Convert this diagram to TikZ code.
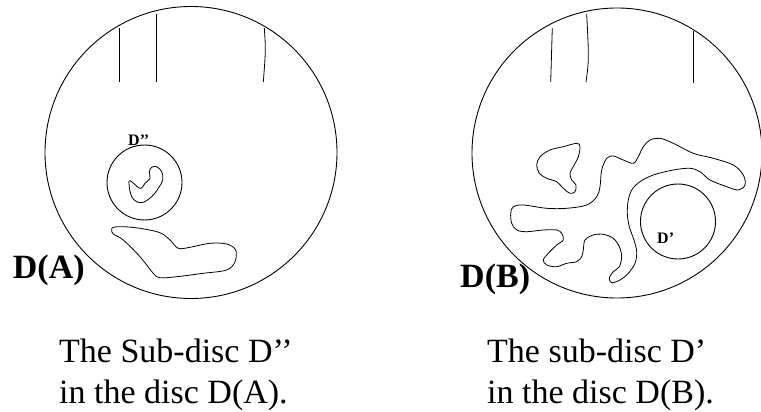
\documentclass[tikz,border=0pt]{standalone}
\usepackage{fontspec}
\setmainfont{Liberation Serif}

\tikzset{
  disc/.style={line width=0.9pt},
  curve/.style={line width=0.8pt},
  cut/.style={line width=0.8pt},
  biglabel/.style={font=\fontsize{34}{40}\selectfont\bfseries, inner sep=0pt, anchor=base west},
  smalllabel/.style={font=\fontsize{16}{19}\selectfont\bfseries, inner sep=0pt, anchor=base west},
  caption/.style={font=\fontsize{34}{41}\selectfont, inner sep=0pt, anchor=base west},
}

\begin{document}
\begin{tikzpicture}[x=1pt, y=-1pt]
    \useasboundingbox (0,0) rectangle (761,412);

    % Disc D(A)
    \draw[disc] (191,152.5) circle[radius=146pt];
    \draw[cut] (119,28) -- (119,82);
    \draw[cut] (156.7,14) -- (156.7,82);
    \draw[cut] (264.3,28) .. controls (265.8,50) .. (263.3,82);

    % Sub-disc D''
    \draw[disc] (144.5,182.5) circle[radius=37.5pt];
    \draw[curve] plot[smooth cycle, tension=0.6] coordinates {
      (140,188.3) (130,180.7) (129.3,186.7) (131.7,196.7) (136.7,201.7)
      (143.3,202.3) (151.7,196.7) (158.3,188.3) (162.7,180) (161.7,171.7)
      (156.7,166.7) (151.7,167.3) (149.3,171.7) (150,178.3) (145,183.3)};
    \draw[curve] plot[smooth cycle, tension=0.55] coordinates {
      (113.3,227.3) (123.3,226.7) (140,228.3) (160,232.7) (170,240)
      (178.3,248.3) (190,247.3) (210,243.3) (226.7,244) (235.7,250)
      (235,261.7) (226.7,270) (203.3,273.3) (176.7,276.7) (160,277.7)
      (153.3,273.3) (140,256.7) (123.3,240) (113.3,234) (111.7,230)};

    \node[smalllabel] (ddA) at (128,145) {D’’};
    \node[biglabel] (labA) at (12.7,278) {D(A)};

    % Disc D(B)
    \draw[disc] (617,153) circle[radius=145pt];
    \draw[cut] (552.3,28) -- (550.7,82);
    \draw[cut] (586.7,14) .. controls (589,60) .. (586,82);
    \draw[cut] (693.3,31) -- (693.3,83);

    % Sub-disc D'
    \draw[disc] (678,221.5) circle[radius=37.5pt];
    \draw[curve] plot[smooth cycle, tension=0.55] coordinates {
      (540,156.7) (550,150) (563.3,146.7) (576.7,143.3) (580,146.7)
      (578.3,156.7) (573.3,166.7) (570,173.3) (571.7,180) (576,185)
      (575,191.7) (570,193.3) (563.3,188.3) (556.7,181.7) (546.7,178.3)
      (539.3,173.3) (536.7,165)};
    \draw[curve] plot[smooth cycle, tension=0.55] coordinates {
      (513.3,206.7) (523.3,205) (546.7,208.3) (566.7,208.3) (586.7,205)
      (596.7,196.7) (600,186.7) (601.7,170) (606.7,158.3) (613.3,156)
      (623.3,160) (633.3,163.3) (638.3,156.7) (643.3,146.7) (650,140)
      (660,138.3) (673.3,143.3) (693.3,153.3) (713.3,158.3) (733.3,165)
      (743.3,175) (745,185) (738.3,190) (726.7,186.7) (710,180)
      (700,171.7) (690,168.3) (673.3,170) (653.3,175) (640,181.7)
      (631.7,190) (628.3,200) (627.3,213.3) (629.3,226.7) (634,240)
      (636.7,251.7) (635,263.3) (628.3,273.3) (620,280) (611.7,282.7)
      (609.3,278.3) (613.3,271.7) (619.3,266.7) (621.7,256.7) (619.3,246.7)
      (613.3,238.3) (603.3,234.3) (593.3,235) (585,240) (583.3,250)
      (581.7,256.7) (576.7,261.7) (566.7,263.3) (556.7,266.7) (546.7,265)
      (543.3,260) (548.3,253.3) (556.7,245) (563.3,240) (561.7,233.3)
      (556.7,230) (543.3,230) (526.7,231.7) (516.7,230) (511.7,223.3)
      (510.7,213.3)};

    \node[smalllabel] (dB) at (657,243) {D’};
    \node[biglabel] (labB) at (460,287) {D(B)};

    % Captions
    \node[caption] (capAone) at (59,362) {The Sub-disc D’’};
    \node[caption] (capAtwo) at (59,403) {in the disc D(A).};
    \node[caption] (capBone) at (487,362) {The sub-disc D’};
    \node[caption] (capBtwo) at (487,403) {in the disc D(B).};
\end{tikzpicture}
\end{document}
